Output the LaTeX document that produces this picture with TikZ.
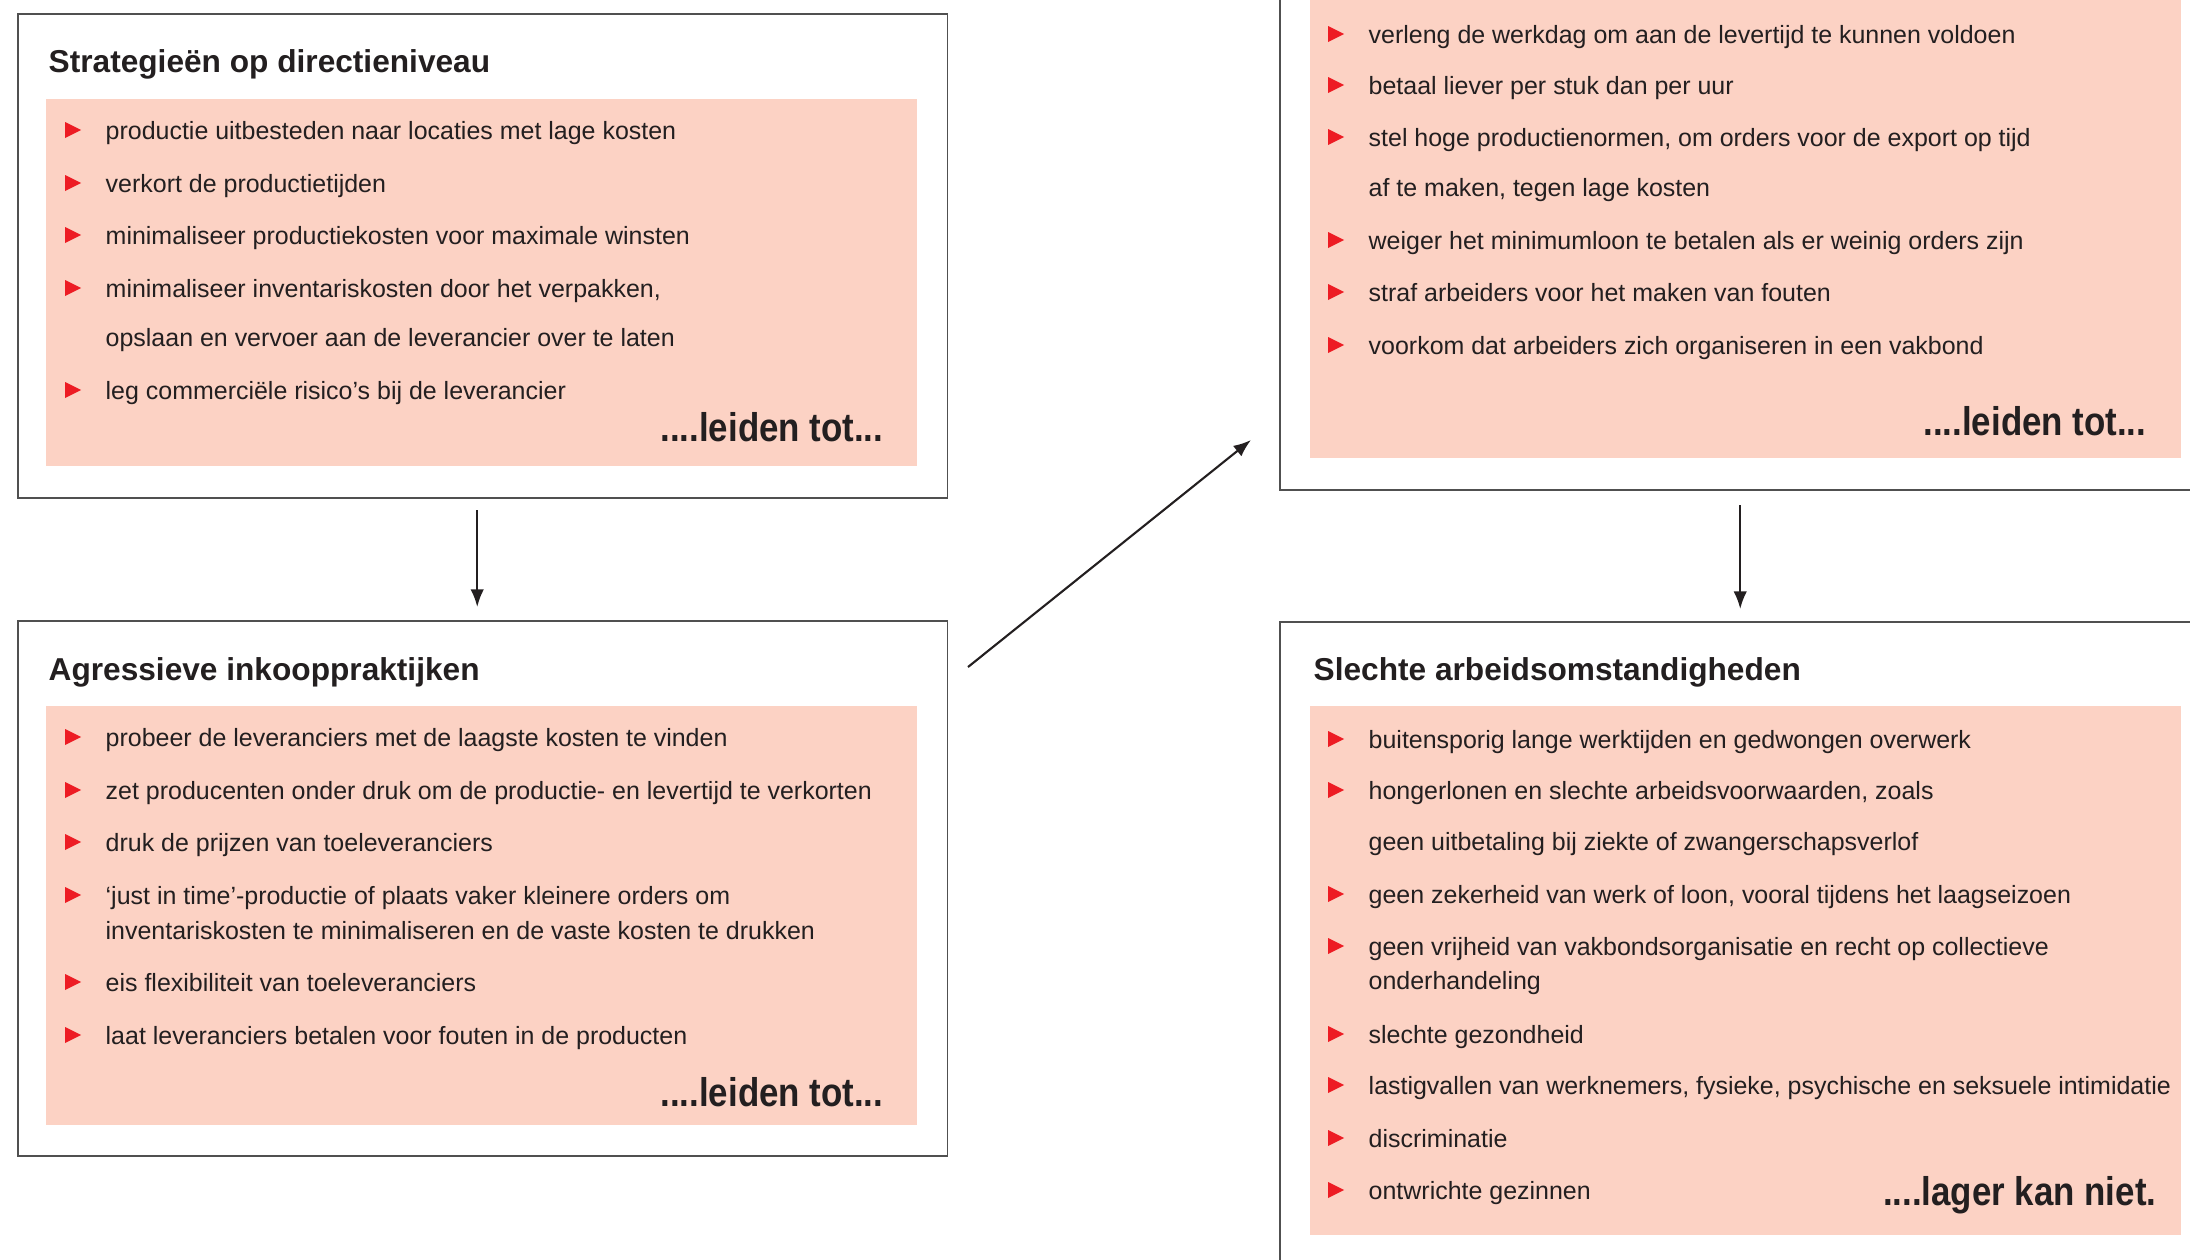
\documentclass[tikz,border=0pt]{standalone}
\usepackage{fontspec}
\setmainfont{Liberation Sans}
\newfontfamily\bodyfont{Liberation Sans}[FakeStretch=1.0]
\newfontfamily\headfont{Liberation Sans}[FakeStretch=1.0]
\newfontfamily\tailfont{Liberation Sans}[FakeStretch=0.87]
\usetikzlibrary{shapes,arrows.meta,calc}
\definecolor{panelpink}{RGB}{252,210,196}
\definecolor{bulletred}{RGB}{237,28,36}
\definecolor{ink}{RGB}{35,31,32}
\definecolor{framegray}{RGB}{80,80,80}
\tikzstyle{line} = [draw, ink, line width=0.6pt, -{Latex[length=5pt,width=3.8pt]}]
\tikzstyle{frame} = [draw=framegray, line width=0.55pt, rectangle, anchor=north west, minimum width=9.29cm, inner sep=0pt]
\tikzstyle{panel} = [fill=panelpink, rectangle, anchor=north west, minimum width=8.71cm, inner sep=0pt]
\tikzstyle{bullet} = [fill=bulletred, isosceles triangle, isosceles triangle stretches, minimum width=0.16cm, minimum height=0.16cm, inner sep=0pt, label distance=0.22cm]
\tikzstyle{cont} = [anchor=west, inner sep=0pt, text height=6.9pt, text depth=1.3pt, text=ink, font=\bodyfont\fontsize{7.1}{8.5}\selectfont]
\tikzstyle{item} = [cont, label={[bullet]left:}]
\tikzstyle{title} = [anchor=base west, inner sep=0pt, text=ink, font=\headfont\bfseries\fontsize{9.0}{10.5}\selectfont]
\tikzstyle{tail} = [anchor=base east, inner sep=0pt, text=ink, font=\tailfont\bfseries\fontsize{11.4}{13}\selectfont]

\begin{document}
\begin{tikzpicture}[x=0.01cm, y=-0.01cm]
    \useasboundingbox (0,0) rectangle (2190,1259);
    \clip (0,0) rectangle (2190,1259);
    % frames and coloured panels
    \node[frame, minimum height=4.84cm] (strat) at (17,13) {};
    \node[panel, minimum height=3.67cm] (strat bg) at (45,98) {};
    \node[frame, minimum height=5.35cm] (inkoop) at (17,620) {};
    \node[panel, minimum height=4.19cm] (inkoop bg) at (45,705) {};
    \node[frame, minimum height=5.60cm] (praktijk) at (1279,-71) {};
    \node[panel, minimum height=5.28cm] (praktijk bg) at (1309,-71) {};
    \node[frame, minimum height=6.60cm] (arbeid) at (1279,621) {};
    \node[panel, minimum height=5.29cm] (arbeid bg) at (1309,705) {};

    % strategieen op directieniveau
    \node[title] (strat title) at (48,72) {Strategieën op directieniveau};
    \node[item] (s1) at (105,130) {productie uitbesteden naar locaties met lage kosten};
    \node[item] (s2) at (105,183) {verkort de productietijden};
    \node[item] (s3) at (105,235) {minimaliseer productiekosten voor maximale winsten};
    \node[item] (s4) at (105,288) {minimaliseer inventariskosten door het verpakken,};
    \node[cont] (s4b) at (105,337) {opslaan en vervoer aan de leverancier over te laten};
    \node[item] (s5) at (105,390) {leg commerciële risico’s bij de leverancier};
    \node[tail] (strat tail) at (884,441) {....leiden tot...};

    % agressieve inkooppraktijken
    \node[title] (inkoop title) at (48,680) {Agressieve inkooppraktijken};
    \node[item] (i1) at (105,737) {probeer de leveranciers met de laagste kosten te vinden};
    \node[item] (i2) at (105,790) {zet producenten onder druk om de productie- en levertijd te verkorten};
    \node[item] (i3) at (105,842) {druk de prijzen van toeleveranciers};
    \node[item] (i4) at (105,895) {‘just in time’-productie of plaats vaker kleinere orders om};
    \node[cont] (i4b) at (105,930) {inventariskosten te minimaliseren en de vaste kosten te drukken};
    \node[item] (i5) at (105,982) {eis flexibiliteit van toeleveranciers};
    \node[item] (i6) at (105,1035) {laat leveranciers betalen voor fouten in de producten};
    \node[tail] (inkoop tail) at (884,1106) {....leiden tot...};

    % praktijken bij de leverancier
    \node[item] (p1) at (1368,34) {verleng de werkdag om aan de levertijd te kunnen voldoen};
    \node[item] (p2) at (1368,85) {betaal liever per stuk dan per uur};
    \node[item] (p3) at (1368,137) {stel hoge productienormen, om orders voor de export op tijd};
    \node[cont] (p3b) at (1368,187) {af te maken, tegen lage kosten};
    \node[item] (p4) at (1368,240) {weiger het minimumloon te betalen als er weinig orders zijn};
    \node[item] (p5) at (1368,292) {straf arbeiders voor het maken van fouten};
    \node[item] (p6) at (1368,345) {voorkom dat arbeiders zich organiseren in een vakbond};
    \node[tail] (praktijk tail) at (2147,435) {....leiden tot...};

    % slechte arbeidsomstandigheden
    \node[title] (arbeid title) at (1313,680) {Slechte arbeidsomstandigheden};
    \node[item] (a1) at (1368,739) {buitensporig lange werktijden en gedwongen overwerk};
    \node[item] (a2) at (1368,790) {hongerlonen en slechte arbeidsvoorwaarden, zoals};
    \node[cont] (a2b) at (1368,841) {geen uitbetaling bij ziekte of zwangerschapsverlof};
    \node[item] (a3) at (1368,894) {geen zekerheid van werk of loon, vooral tijdens het laagseizoen};
    \node[item] (a4) at (1368,946) {geen vrijheid van vakbondsorganisatie en recht op collectieve};
    \node[cont] (a4b) at (1368,980) {onderhandeling};
    \node[item] (a5) at (1368,1034) {slechte gezondheid};
    \node[item] (a6) at (1368,1085) {lastigvallen van werknemers, fysieke, psychische en seksuele intimidatie};
    \node[item] (a7) at (1368,1138) {discriminatie};
    \node[item] (a8) at (1368,1190) {ontwrichte gezinnen};
    \node[tail] (arbeid tail) at (2157,1205) {....lager kan niet.};

    % connectors
    \coordinate (diag start) at (968,667);
    \coordinate (diag end) at (1251,440);
    \path[line, shorten <=0.11cm, shorten >=0.13cm] ([xshift=-0.055cm]strat.south) -- ([xshift=-0.055cm]inkoop.north);
    \path[line, shorten <=0.14cm, shorten >=0.12cm] ([xshift=-0.045cm]praktijk.south) -- ([xshift=-0.045cm]arbeid.north);
    \path[line] (diag start) -- (diag end);
\end{tikzpicture}
\end{document}
